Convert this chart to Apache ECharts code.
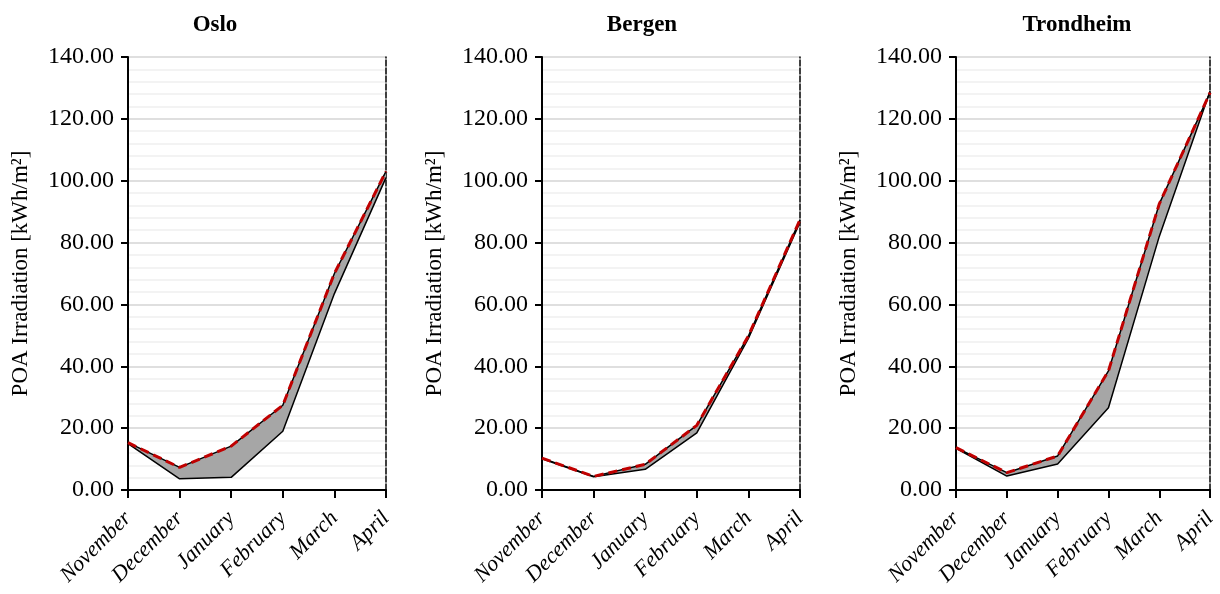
<!DOCTYPE html>
<html>
<head>
<meta charset="utf-8">
<script src="https://cdn.jsdelivr.net/npm/echarts@6/dist/echarts.min.js"></script>
<style>
  html, body { margin: 0; padding: 0; background: #fff; }
  #chart { width: 1220px; height: 594px; }
</style>
</head>
<body>
<div id="chart"></div>
<script>
// months on the x axis
var months = ['November', 'December', 'January', 'February', 'March', 'April'];
var yTicks = [0, 20, 40, 60, 80, 100, 120, 140];

// values, kWh/m2
var osloUpper = [15.3, 7.3, 14.2, 27.4, 70.0, 103.0];
var osloLower = [15.0, 3.6, 4.1, 19.0, 63.5, 101.0];
var bergenUpper = [10.3, 4.4, 8.3, 20.9, 49.8, 87.4];
var bergenLower = [10.1, 4.3, 6.7, 18.5, 49.0, 86.6];
var trondUpper = [13.7, 5.6, 11.0, 38.5, 92.5, 128.5];
var trondLower = [13.5, 4.5, 8.4, 26.6, 82.0, 129.0];

var cities = ['Oslo', 'Bergen', 'Trondheim'];
var uppers = [osloUpper, bergenUpper, trondUpper];
var lowers = [osloLower, bergenLower, trondLower];

var font = '"Liberation Serif", "Times New Roman", serif';
var lefts = [128, 542, 956];
var titleX = [210, 637, 1072];

var chart = echarts.init(document.getElementById('chart'));

var grids = [], xAxes = [], yAxes = [], series = [], titles = [];
for (var i = 0; i < 3; i++) {
    titles.push({
        text: cities[i], left: titleX[i], top: 9, textAlign: 'center',
        textStyle: { fontFamily: font, fontSize: 23, fontWeight: 'bold', color: '#000' }
    });
    grids.push({ left: lefts[i], top: 57, width: 258, height: 433 });
    xAxes.push({
        type: 'category', gridIndex: i, data: months, boundaryGap: false,
        axisLine: { lineStyle: { color: '#000', width: 2 } },
        axisTick: { show: true, length: 8, lineStyle: { color: '#000', width: 2 } },
        axisLabel: { rotate: 45, interval: 0, margin: 25, fontFamily: font, fontStyle: 'italic', fontSize: 22, color: '#000' },
        splitLine: { show: false }
    });
    yAxes.push({
        type: 'value', gridIndex: i, min: 0, max: 140, interval: 20,
        name: 'POA Irradiation [kWh/m²]', nameLocation: 'middle', nameGap: 96,
        nameTextStyle: { fontFamily: font, fontSize: 23, color: '#000' },
        axisLine: { show: true, lineStyle: { color: '#000', width: 2 } },
        axisTick: { show: true, length: 7, lineStyle: { color: '#000', width: 2 } },
        axisLabel: { fontFamily: font, fontSize: 24, color: '#000', margin: 14,
            formatter: function (v) { return v.toFixed(2); } },
        splitLine: { show: true, lineStyle: { color: '#d4d4d4', width: 1.5 } },
        minorTick: { show: false, splitNumber: 5 },
        minorSplitLine: { show: true, lineStyle: { color: '#efefef', width: 1.5 } }
    });
    // dashed right edge
    yAxes.push({
        type: 'value', gridIndex: i, min: 0, max: 140, interval: 20, position: 'right',
        axisLine: { show: true, lineStyle: { color: '#000', width: 1.5, type: [6, 2] } },
        axisTick: { show: false }, axisLabel: { show: false }, splitLine: { show: false }
    });

    var lo = lowers[i], up = uppers[i];
    var diff = up.map(function (v, k) { return Math.max(0, v - lo[k]); });
    series.push({
        type: 'line', xAxisIndex: i, yAxisIndex: 2 * i, data: lo, stack: 's' + i,
        symbol: 'none', lineStyle: { color: '#000', width: 1.5 }, z: 3
    });
    series.push({
        type: 'line', xAxisIndex: i, yAxisIndex: 2 * i, data: diff, stack: 's' + i,
        symbol: 'none', lineStyle: { width: 0, opacity: 0 },
        areaStyle: { color: '#a6a6a6', opacity: 1 }, z: 2
    });
    series.push({
        type: 'line', xAxisIndex: i, yAxisIndex: 2 * i, data: up,
        symbol: 'none', lineStyle: { color: '#000', width: 1.5 }, z: 4
    });
    series.push({
        type: 'line', xAxisIndex: i, yAxisIndex: 2 * i, data: up,
        symbol: 'none', lineStyle: { color: '#c00000', width: 3, type: [9, 5] }, z: 5
    });
}

chart.setOption({
    animation: false,
    title: titles,
    grid: grids,
    xAxis: xAxes,
    yAxis: yAxes,
    series: series
});
</script>
</body>
</html>
